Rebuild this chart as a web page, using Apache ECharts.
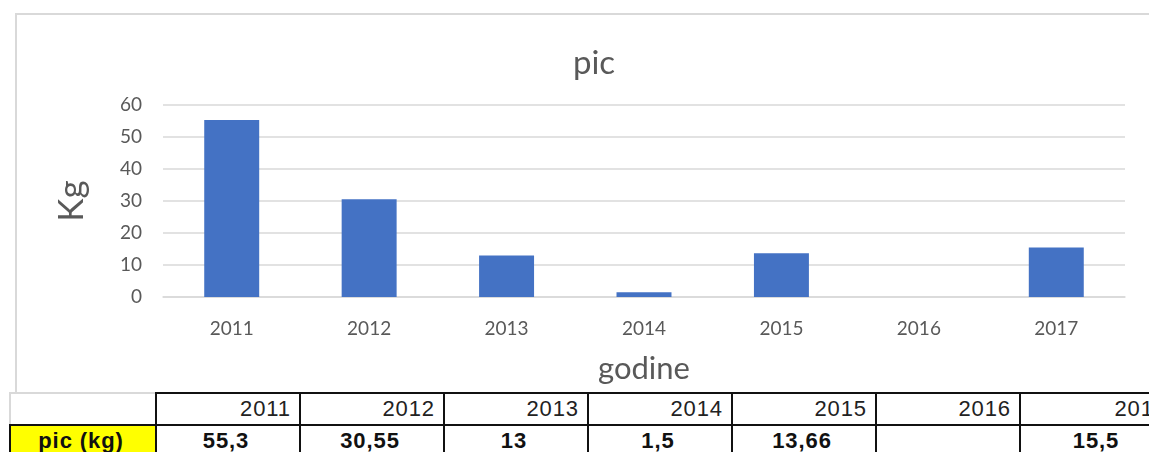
<!DOCTYPE html>
<html><head><meta charset="utf-8">
<script src="https://cdn.jsdelivr.net/npm/echarts@6/dist/echarts.min.js"></script>
<style>
html,body{margin:0;padding:0;background:#fff;}
#wrap{position:relative;width:1149px;height:452px;overflow:hidden;background:#fff;}
#frame{position:absolute;left:15px;top:13px;width:1160px;height:420px;border:2px solid #d9d9d9;box-sizing:border-box;}
#chart{position:absolute;left:0;top:0;width:1149px;height:452px;}
#tbl{position:absolute;left:9px;top:392px;border-collapse:collapse;font-family:"Liberation Sans",Arial,sans-serif;font-size:22px;color:#222;background:#fff;table-layout:fixed;}
#tbl td{border:2px solid #111;height:30px;padding:0 8px 0 4px;white-space:nowrap;overflow:hidden;letter-spacing:0.9px;line-height:30px;}
#tbl tr.h td{text-align:right;}
#tbl tr.h td.blank{border-top:2px solid #d9d9d9;border-left:2px solid #d9d9d9;}
#tbl tr.v td{text-align:center;font-weight:bold;font-size:22px;color:#111;}
#tbl td.lab{background:#ffff00;}
</style></head>
<body><div id="wrap"><div id="frame"></div><div id="chart"></div><table id="tbl"></table></div>
<script>
var categories = ['2011','2012','2013','2014','2015','2016','2017'];
var values = [55.3, 30.55, 13, 1.5, 13.66, null, 15.5];
var valueLabels = ['55,3','30,55','13','1,5','13,66','','15,5'];
var seriesName = 'pic';
var rowLabel = 'pic (kg)';

var chart = echarts.init(document.getElementById('chart'), null, {renderer:'canvas'});
var font = 'Lato, "Open Sans", sans-serif';
chart.setOption({
  animation:false,
  title:{text:seriesName, left:589, top:42, textAlign:'center',
    textStyle:{fontFamily:font, fontSize:33, fontWeight:'normal', color:'#595959'}},
  grid:{left:163, right:24, top:105, bottom:155},
  xAxis:{type:'category', data:categories,
    name:'godine', nameLocation:'middle', nameGap:56,
    nameTextStyle:{fontFamily:font, fontSize:31, color:'#595959', verticalAlign:'top'},
    axisLine:{lineStyle:{color:'#d9d9d9', width:1.5}}, axisTick:{show:false},
    axisLabel:{fontFamily:font, fontSize:19, color:'#595959', margin:22}},
  yAxis:{type:'value', min:0, max:60, interval:10,
    name:'Kg', nameLocation:'middle', nameGap:74,
    nameTextStyle:{fontFamily:font, fontSize:35, color:'#595959'},
    axisLine:{show:false}, axisTick:{show:false},
    splitLine:{lineStyle:{color:'#d9d9d9', width:1.5}},
    axisLabel:{fontFamily:font, fontSize:19, color:'#595959', margin:21}},
  series:[{type:'bar', name:seriesName, data:values, barWidth:'40%',
    itemStyle:{color:'#4472c4'}}]
});

var tbl = document.getElementById('tbl');
var widths = [146, 144, 144, 144, 144, 144, 144, 156];
var cg = document.createElement('colgroup');
widths.forEach(function(w){var c=document.createElement('col');c.style.width=w+'px';cg.appendChild(c);});
tbl.appendChild(cg);
var tw = widths.reduce(function(a,b){return a+b;},0);
tbl.style.width = tw+'px';
var r1 = document.createElement('tr'); r1.className='h';
var c0 = document.createElement('td'); c0.className='blank'; r1.appendChild(c0);
categories.forEach(function(c){var td=document.createElement('td');td.textContent=c;r1.appendChild(td);});
var r2 = document.createElement('tr'); r2.className='v';
var l = document.createElement('td'); l.className='lab'; l.textContent=rowLabel; r2.appendChild(l);
valueLabels.forEach(function(v){var td=document.createElement('td');td.textContent=v;r2.appendChild(td);});
tbl.appendChild(r1); tbl.appendChild(r2);
</script></body></html>
